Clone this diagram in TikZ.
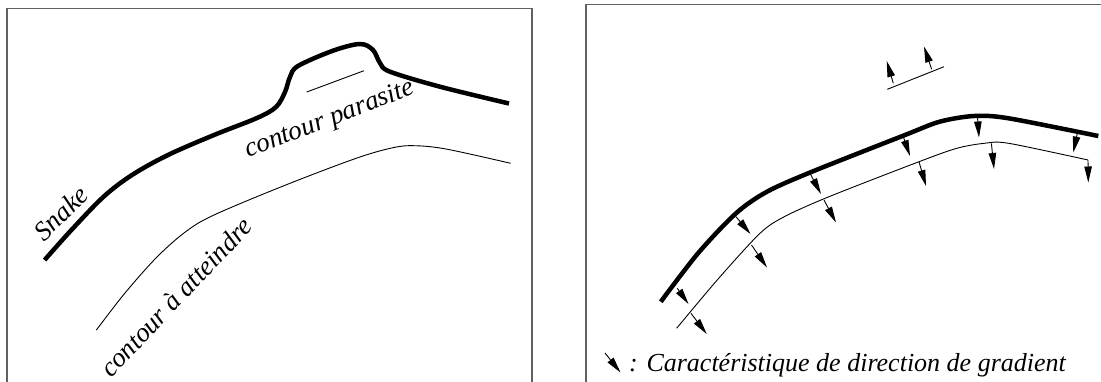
\documentclass[tikz,border=0pt]{standalone}
\usepackage{fontspec}
\setmainfont{Liberation Serif}[ItalicFont={Liberation Serif Italic}]
\usetikzlibrary{arrows.meta}
\begin{document}
\begin{tikzpicture}[x=1pt,y=-1pt,
  frame/.style={draw=black!62,line width=1.3pt},
  snakeline/.style={line width=4.5pt,line cap=butt,line join=round},
  targetline/.style={line width=0.9pt},
  gradarrow/.style={line width=0.9pt,-{Triangle[length=16pt,width=7.5pt]}},
  lbl/.style={font=\fontsize{27}{32}\selectfont\itshape,inner sep=0pt},
  caplbl/.style={font=\fontsize{26}{32}\selectfont\itshape,inner sep=0pt}]
\useasboundingbox (0,0) rectangle (1101,381);
% frames
\draw[frame] (7,383) -- (7,8.7) -- (532,8.7) -- (532,383);
\draw[frame] (586,383) -- (586,4.7) -- (1103,4.7);
% ---------- left panel ----------
\draw[snakeline] plot[smooth,tension=0.55] coordinates {(44.6,260) (71.4,230) (103.6,196.7) (132,175) (168,155) (214,135) (257,118) (276,107) (285,92) (290,77) (298,66) (333,50.7) (360,44) (373,50) (380,63) (390,71.7) (440,86.7) (509,103.5)};
\draw[targetline] (306.7,92) -- (364,70.7);
\draw[targetline] plot[smooth,tension=0.55] coordinates {(96.4,330) (125,293) (157,257) (185.7,231.7) (214,215) (285.7,185) (357,158) (393,147.7) (414,145.7) (446,149) (510.7,163.3)};
\node[lbl,rotate=44] (snk) at (61,213) {Snake};
\node[lbl,rotate=21] (par) at (330,120) {contour parasite};
\node[lbl,rotate=46.5] (att) at (176,297) {contour à atteindre};
% ---------- right panel ----------
\draw[snakeline] plot[smooth,tension=0.5] coordinates {(660.8,301.7) (698,253.3) (736,213.3) (767,191.7) (812,171.7) (905,135) (939.6,121.7) (974,116) (1008.6,118.3) (1098.3,136)};
\draw[targetline] plot[smooth,tension=0.5] coordinates {(676.6,328.3) (718.7,278.3) (760,233.3) (784.3,216.7) (829,196.7) (919,161.7) (956.8,148.3) (984.4,143.3) (1008.6,143.3) (1088,160)};
\draw[targetline] (887.3,89.3) -- (944,66.7);
% gradient arrows
\foreach \a/\b in {
  {(677.3,288.3)}/{(688.5,304)},
  {(691,313.3)}/{(706.7,334)},
  {(736,216.7)}/{(750.5,234)},
  {(751.5,245)}/{(767,267.5)},
  {(810,173.3)}/{(821,194)},
  {(824,200)}/{(836,222.5)},
  {(903.3,136.7)}/{(910,156)},
  {(919,161.7)}/{(926,186)},
  {(977.5,116.7)}/{(979,137.5)},
  {(991.4,143.3)}/{(994,169)},
  {(1077.3,133.3)}/{(1073.3,152.5)},
  {(1088,160)}/{(1088.3,182.5)},
  {(893.3,83.3)}/{(886.7,61)},
  {(931.7,69.3)}/{(924,46.5)},
  {(605,353)}/{(620.5,372.5)}}
  \draw[gradarrow] \a -- \b;
\node[caplbl,anchor=base west] (cap) at (629,371) {: Caractéristique de direction de gradient};
\end{tikzpicture}
\end{document}
